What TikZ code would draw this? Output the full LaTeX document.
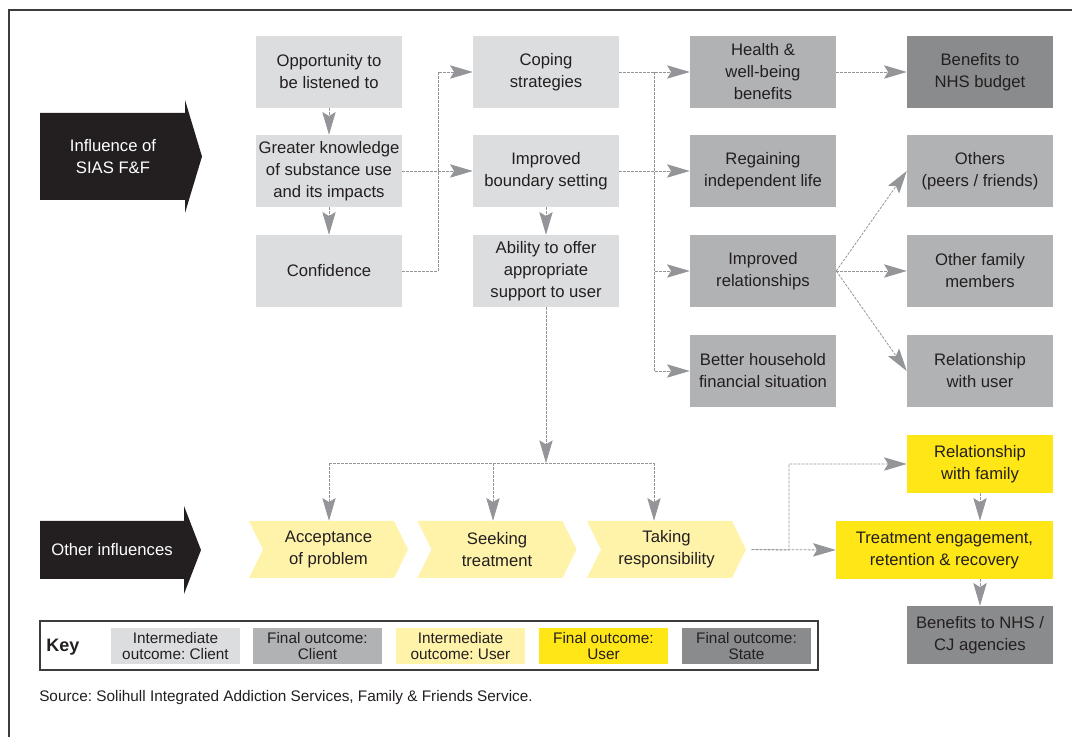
\documentclass[tikz,border=0pt]{standalone}
\usepackage{fontspec}
\setmainfont{Liberation Sans}
\usetikzlibrary{arrows.meta,calc}
\definecolor{cint}{HTML}{DCDDDF}
\definecolor{cfin}{HTML}{B1B2B4}
\definecolor{cstate}{HTML}{8A8B8D}
\definecolor{cuseri}{HTML}{FFF3AA}
\definecolor{cuserf}{HTML}{FFE617}
\definecolor{cblack}{HTML}{231F20}
\definecolor{cline}{HTML}{939598}
\definecolor{ctext}{HTML}{231F20}
\definecolor{cframe}{HTML}{3C3C3C}
\tikzset{
  box/.style={rectangle, inner sep=0pt, align=center, text=ctext,
    font=\fontsize{12.5}{16.5}\selectfont, minimum width=109.5pt, minimum height=54pt},
  ic/.style={box, fill=cint},
  fc/.style={box, fill=cfin},
  stbox/.style={box, fill=cstate},
  uf/.style={box, fill=cuserf, minimum height=43.5pt},
  chev/.style={inner sep=0pt, align=center, text=ctext,
    font=\fontsize{12.5}{16.5}\selectfont, minimum width=119.25pt, minimum height=42.75pt,
    path picture={\fill[cuseri] (path picture bounding box.north west)
      -- ([xshift=-10.5pt]path picture bounding box.north east)
      -- (path picture bounding box.east)
      -- ([xshift=-10.5pt]path picture bounding box.south east)
      -- (path picture bounding box.south west)
      -- ([xshift=10.5pt]path picture bounding box.west) -- cycle;}},
  dline/.style={draw=cline, line width=0.6pt, dash pattern=on 2pt off 1pt},
  conn/.style={dline, -{Stealth[length=17pt,width=10pt,inset=3pt]}},
  keysw/.style={rectangle, inner sep=0pt, align=center, text=ctext,
    font=\fontsize{11.5}{12}\selectfont, minimum width=96.75pt, minimum height=27pt},
  infl/.style={align=center, text=white, font=\fontsize{12.5}{16.5}\selectfont}
}
\begin{document}
\frenchspacing
\begin{tikzpicture}[x=0.75pt,y=-0.75pt]
\useasboundingbox (0,0) rectangle (1072,737);
\fill[white] (0,0) rectangle (1072,737);
% frame
\draw[cframe, line width=1.4pt] (9,737) -- (9,10) -- (1072,10);

% black influence arrows
\fill[cblack] (40,113) -- (185,113) -- (185,100) -- (202,156.5) -- (185,213) -- (185,200) -- (40,200) -- cycle;
\node[infl] (inf1) at (113,156.5) {Influence of\\SIAS F\&F};
\fill[cblack] (40,521) -- (184,521) -- (184,506) -- (201,550) -- (184,594) -- (184,579) -- (40,579) -- cycle;
\node[infl] (inf2) at (112,550) {Other influences};

% column 1
\node[ic] (opp) at (329,72) {Opportunity to\\be listened to};
\node[ic] (gk) at (329,171) {Greater knowledge\\of substance use\\and its impacts};
\node[ic] (conf) at (329,271) {Confidence};
% column 2
\node[ic] (cope) at (546,72) {Coping\\strategies};
\node[ic] (bound) at (546,171) {Improved\\boundary setting};
\node[ic] (abil) at (546,271) {Ability to offer\\appropriate\\support to user};
% column 3
\node[fc] (health) at (763,72) {Health \&\\well-being\\benefits};
\node[fc] (regain) at (763,171) {Regaining\\independent life};
\node[fc] (rel) at (763,271) {Improved\\relationships};
\node[fc] (house) at (763,371) {Better household\\financial situation};
% column 4
\node[stbox] (nhs) at (980,72) {Benefits to\\NHS budget};
\node[fc] (others) at (980,171) {Others\\(peers / friends)};
\node[fc] (ofam) at (980,271) {Other family\\members};
\node[fc] (reluser) at (980,371) {Relationship\\with user};

% user row
\node[chev] (c1) at (328.5,549.5) {Acceptance\\of problem};
\node[chev] (c2) at (497,549.5) {Seeking\\treatment};
\node[chev] (c3) at (666.5,549.5) {Taking\\responsibility};
\node[uf] (relfam) at (980,464) {Relationship\\with family};
\node[uf, minimum width=162.75pt] (treat) at (944.5,550) {Treatment engagement,\\retention \& recovery};
\node[stbox, minimum height=43.5pt] (cj) at (980,635) {Benefits to NHS /\\CJ agencies};

% junction coordinates
\coordinate (j1) at (438,271);
\coordinate (j2) at (654,72);
\coordinate (j3) at (546,463);
\coordinate (j4) at (329,463);
\coordinate (j5) at (654,463);
\coordinate (j6) at (493,463);
\coordinate (j7) at (789,550);

% connectors
\draw[conn] (opp) -- (gk);
\draw[conn] (gk) -- (conf);
\draw[conn] (conf.east) -- (j1) |- (cope.west);
\draw[conn] (gk.east) -- (bound.west);
\draw[conn] (bound) -- (abil);
\draw[conn] (cope.east) -- (health.west);
\draw[conn] (bound.east) -- (regain.west);
\draw[conn] (j2) |- (rel.west);
\draw[conn] (j2) |- (house.west);
\draw[conn] (health) -- (nhs);
\draw[conn] (rel.east) -- (others.west);
\draw[conn] (rel.east) -- (ofam.west);
\draw[conn] (rel.east) -- (reluser.west);
\draw[conn] (abil) -- (j3);
\draw[dline] (j4) -- (j5);
\draw[conn] (j4) -- (j4 |- c1.north);
\draw[conn] (j6) -- (j6 |- c2.north);
\draw[conn] (j5) -- (j5 |- c3.north);
\draw[conn, shorten <=4pt] (c3.east) -- (treat.west);
\draw[conn, shorten <=4pt] (c3.east) -- (j7) |- (relfam.west);
\draw[conn] (relfam.south) -- (relfam.south |- treat.north);
\draw[conn] (cj.north |- treat.south) -- (cj.north);

% key
\node[draw=cframe, line width=1pt, inner sep=0pt, minimum width=583.5pt, minimum height=36.75pt] (key) at (429,645.5) {};
\node[font=\bfseries\fontsize{13.5}{16}\selectfont, text=ctext] (keyl) at (63,647) {Key};
\node[keysw, fill=cint] (k1) at (175.5,646) {Intermediate\\outcome: Client};
\node[keysw, fill=cfin] (k2) at (317.5,646) {Final outcome:\\Client};
\node[keysw, fill=cuseri] (k3) at (460.5,646) {Intermediate\\outcome: User};
\node[keysw, fill=cuserf] (k4) at (603.5,646) {Final outcome:\\User};
\node[keysw, fill=cstate] (k5) at (746.5,646) {Final outcome:\\State};

% source
\node[anchor=west, inner sep=0pt, text=ctext, font=\fontsize{11.5}{13}\selectfont] (src) at (39,698) {Source: Solihull Integrated Addiction Services, Family \& Friends Service.};
\end{tikzpicture}
\end{document}
